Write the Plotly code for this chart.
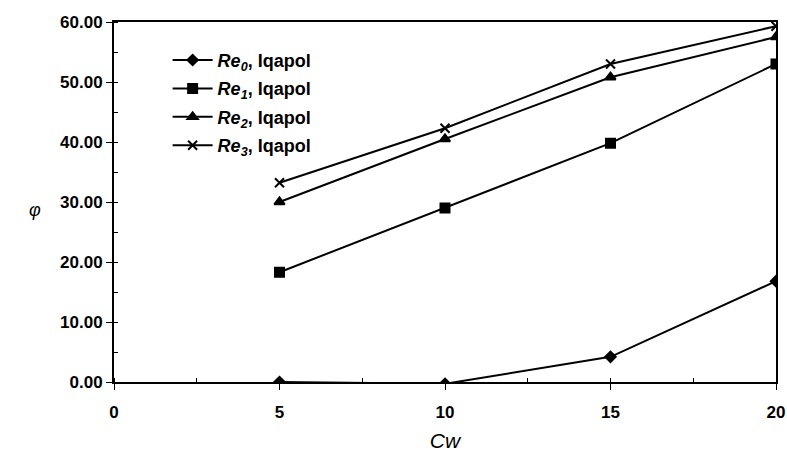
import plotly.graph_objects as go

# Cw values on the horizontal axis
cw = [5, 10, 15, 20]

# phi values for each Re series
re0 = [0.0, -0.3, 4.2, 16.8]
re1 = [18.3, 29.0, 39.8, 53.0]
re2 = [30.0, 40.5, 50.8, 57.5]
re3 = [33.2, 42.3, 53.0, 59.3]

names = [
    "<i>Re<sub>0</sub></i>, Iqapol",
    "<i>Re<sub>1</sub></i>, Iqapol",
    "<i>Re<sub>2</sub></i>, Iqapol",
    "<i>Re<sub>3</sub></i>, Iqapol",
]
symbols = ["diamond", "square", "triangle-up", "x-thin-open"]
sizes = [8, 9, 9, 9]

fig = go.Figure()
for i, (ys, name, sym, sz) in enumerate(zip([re0, re1, re2, re3], names, symbols, sizes)):
    fig.add_trace(go.Scatter(
        x=cw, y=ys, name=name, mode="lines+markers", legendgroup=f"g{i}",
        line=dict(color="black", width=2),
        marker=dict(symbol=sym, size=sz, color="black",
                    line=dict(color="black", width=2)),
    ))

font = dict(family="Liberation Sans, Arial, sans-serif", size=17, color="black", weight="bold")

fig.update_layout(
    width=787, height=456,
    margin=dict(l=114, r=11, t=22, b=74, autoexpand=False),
    paper_bgcolor="white", plot_bgcolor="white",
    font=font,
    showlegend=True,
    legend=dict(x=0.081, y=0.945, xanchor="left", yanchor="top",
                bgcolor="rgba(0,0,0,0)", font=dict(size=18, weight="bold"),
                tracegroupgap=2, itemwidth=40),
    xaxis=dict(
        range=[0, 20], tickvals=[0, 5, 10, 15, 20],
        showgrid=False, zeroline=False, automargin=False,
        showline=True, linecolor="black", linewidth=2, mirror=True,
        ticks="outside", ticklen=6, tickcolor="black",
        ticklabelstandoff=8,
        minor=dict(dtick=2.5, ticks="inside", ticklen=4, tickcolor="black"),
        title=dict(text="<i>Cw</i>", font=dict(size=21, weight="normal"), standoff=12),
        tickfont=dict(size=17, weight="bold"),
    ),
    yaxis=dict(
        range=[0, 60], tickvals=[0, 10, 20, 30, 40, 50, 60], tickformat=".2f",
        showgrid=False, zeroline=False, automargin=False,
        showline=True, linecolor="black", linewidth=2, mirror=True,
        ticks="outside", ticklen=6, tickcolor="black",
        minor=dict(dtick=5, ticks="inside", ticklen=4, tickcolor="black"),
        tickfont=dict(size=17, weight="bold"),
    ),
    annotations=[dict(
        text="<i>φ</i>", xref="paper", yref="paper",
        x=(35 - 114) / (787 - 114 - 11),
        y=(456 - 74 - 210) / (456 - 22 - 74),
        xanchor="center", yanchor="middle",
        showarrow=False, font=dict(size=18, weight="normal"),
    )],
)

fig.write_html("out.html")
